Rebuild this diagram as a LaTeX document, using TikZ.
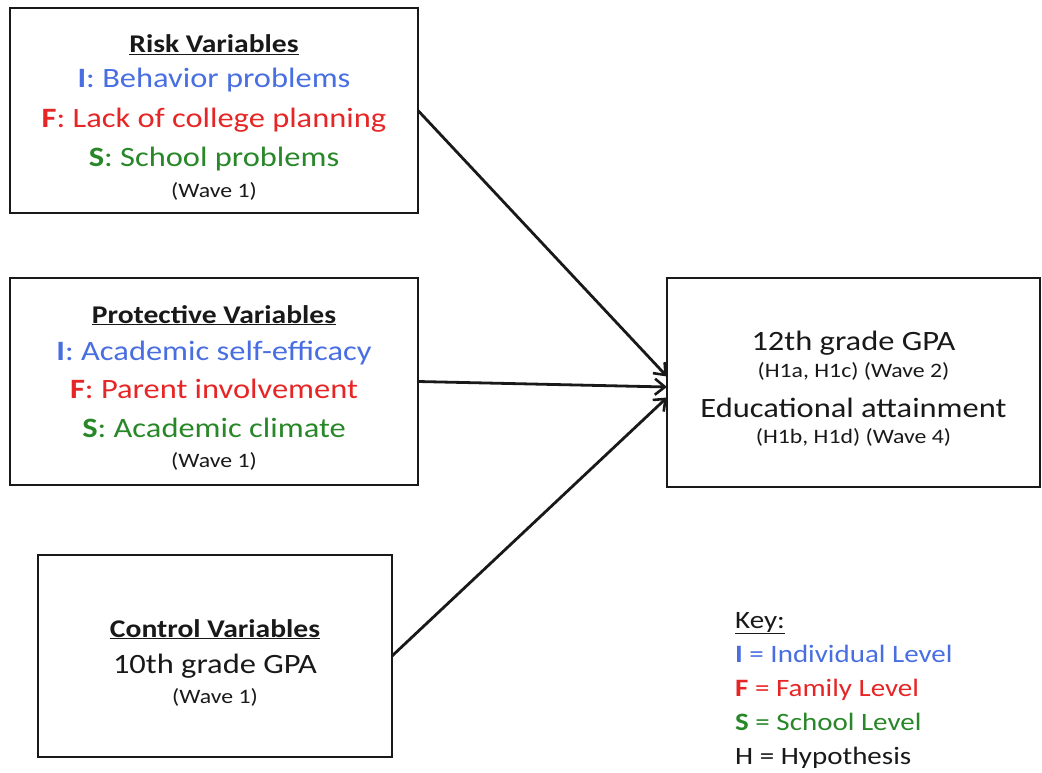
\documentclass[tikz,border=0pt]{standalone}
\usepackage{fontspec}
\setmainfont{Carlito}[FakeStretch=1.16]
\usetikzlibrary{arrows.meta}
\definecolor{lvlI}{RGB}{72,110,225}
\definecolor{lvlF}{RGB}{230,38,38}
\definecolor{lvlS}{RGB}{40,135,40}
\definecolor{ink}{RGB}{25,25,25}

\begin{document}
\begin{tikzpicture}[x=1pt,y=-1pt,
  box/.style={draw=ink,line width=2.9pt,inner sep=0pt,outer sep=0pt},
  big/.style={font=\fontsize{28}{30}\selectfont,anchor=base,inner sep=0pt,text=ink},
  head/.style={font=\fontsize{25.5}{28}\selectfont\bfseries,anchor=base,inner sep=0pt,text=ink},
  small/.style={font=\fontsize{20.5}{22}\selectfont,anchor=base,inner sep=0pt,text=ink},
  keyline/.style={font=\fontsize{25}{27}\selectfont,anchor=base west,inner sep=0pt,text=ink},
  link/.style={draw=ink,line width=2.8pt,-{Straight Barb[length=10pt,width=16pt,line width=2.6pt]}}]
\useasboundingbox (0,0) rectangle (1042,773);

% boxes
\node[box,minimum width=408pt,minimum height=205pt] (risk) at (214,110.5) {};
\node[box,minimum width=408pt,minimum height=207pt] (prot) at (214,381.5) {};
\node[box,minimum width=354pt,minimum height=202pt] (ctrl) at (215,656) {};
\node[box,minimum width=373pt,minimum height=209pt] (out) at (853.5,382.5) {};

% risk variables
\node[head] (rt) at (214,53) {\underline{Risk Variables}};
\node[big,text=lvlI] (ri) at (214,88) {\textbf{I}: Behavior problems};
\node[big,text=lvlF] (rf) at (214,128) {\textbf{F}: Lack of college planning};
\node[big,text=lvlS] (rs) at (214,167) {\textbf{S}: School problems};
\node[small] (rw) at (214,197) {(Wave 1)};

% protective variables
\node[head] (pt) at (214,323) {\underline{Protective Variables}};
\node[big,text=lvlI] (pi) at (214,360) {\textbf{I}: Academic self-efficacy};
\node[big,text=lvlF] (pf) at (214,398) {\textbf{F}: Parent involvement};
\node[big,text=lvlS] (ps) at (214,437) {\textbf{S}: Academic climate};
\node[small] (pw) at (214,467) {(Wave 1)};

% control variables
\node[head] (ct) at (215,637) {\underline{Control Variables}};
\node[big] (cg) at (215,673) {10th grade GPA};
\node[small] (cw) at (215,703) {(Wave 1)};

% outcomes
\node[big] (o1) at (853.5,350) {12th grade GPA};
\node[small] (o2) at (853.5,377) {(H1a, H1c) (Wave 2)};
\node[big] (o3) at (853.5,417) {Educational attainment};
\node[small] (o4) at (853.5,443) {(H1b, H1d) (Wave 4)};

% key
\node[keyline] (k0) at (735,628) {\underline{Key:}};
\node[keyline,text=lvlI] (k1) at (735,662) {\textbf{I} = Individual Level};
\node[keyline,text=lvlF] (k2) at (735,696) {\textbf{F} = Family Level};
\node[keyline,text=lvlS] (k3) at (735,730) {\textbf{S} = School Level};
\node[keyline] (k4) at (735,764) {H = Hypothesis};

% paths
\draw[link] (risk.east) -- ([yshift=6pt]out.west);
\draw[link] (prot.east) -- ([yshift=-4.5pt]out.west);
\draw[link] (ctrl.east) -- ([yshift=-15pt]out.west);
\end{tikzpicture}
\end{document}
